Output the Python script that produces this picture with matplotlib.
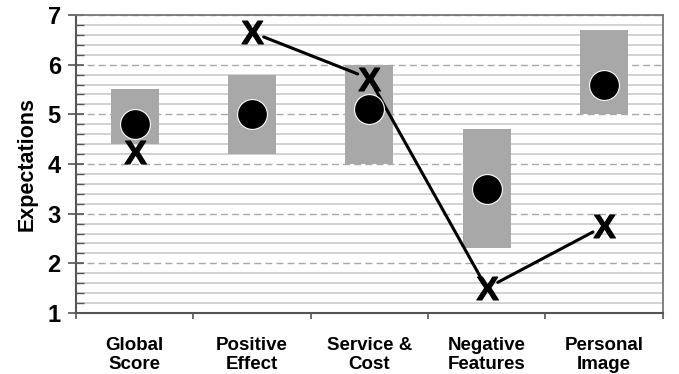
import numpy as np
import matplotlib
matplotlib.use("Agg")
import matplotlib.pyplot as plt
from matplotlib.ticker import MultipleLocator
from matplotlib.textpath import TextPath
from matplotlib.font_manager import FontProperties
from matplotlib.path import Path

plt.rcParams["font.family"] = ["Liberation Sans", "DejaVu Sans"]
plt.rcParams["font.weight"] = "bold"

categories = ["Global\nScore", "Positive\nEffect", "Service &\nCost", "Negative\nFeatures", "Personal\nImage"]
range_low = [4.4, 4.2, 4.0, 2.3, 5.0]
range_high = [5.5, 5.8, 6.0, 4.7, 6.7]
means = [4.8, 5.0, 5.1, 3.5, 5.6]
x_scores = [4.25, 6.65, 5.72, 1.5, 2.75]


def letter_marker(ch):
    """Bold Arial-like letter as a marker path, centred on its own bbox."""
    tp = TextPath((0, 0), ch, prop=FontProperties(family="Liberation Sans", weight="bold"))
    v = tp.vertices.copy()
    v -= (v.min(axis=0) + v.max(axis=0)) / 2
    return Path(v, tp.codes)


def main():
    fig = plt.figure(figsize=(6.79, 3.74), dpi=100)
    ax = fig.add_axes([0.112, 0.163, 0.864, 0.797])

    pos = np.arange(1, len(categories) + 1)

    # grid first so the boxes sit on top
    ax.set_ylim(1, 7)
    ax.set_xlim(0.5, 5.5)
    ax.yaxis.set_major_locator(MultipleLocator(1))
    ax.yaxis.set_minor_locator(MultipleLocator(0.2))
    ax.grid(which="minor", axis="y", color="#cfcfcf", lw=1.3, ls="-")
    ax.grid(which="major", axis="y", color="#a8a8a8", lw=1.0, ls=(0, (5, 3)))
    ax.set_axisbelow(True)

    ax.bar(pos, np.subtract(range_high, range_low), bottom=range_low,
           width=0.41, color="#a8a8a8", zorder=2)

    ax.plot(pos, means, ls="none", marker="o", ms=21.5, color="black",
            mec="white", mew=0.8, zorder=4)

    # line joins the X's from the second category on, stopping short of the letters
    for i in range(1, len(x_scores) - 1):
        ax.annotate("", xy=(pos[i + 1], x_scores[i + 1]), xytext=(pos[i], x_scores[i]),
                    arrowprops=dict(arrowstyle="-", lw=2.2, color="black",
                                    shrinkA=9, shrinkB=9), zorder=3)
    ax.plot(pos, x_scores, ls="none", marker=letter_marker("X"), ms=16.5,
            color="black", mec="black", mew=0.8, zorder=5)

    ax.set_xticks(pos)
    ax.set_xticklabels(categories, fontsize=13.5, fontweight="bold", linespacing=1.15)
    ax.set_xticks(np.arange(0.5, 6, 1), minor=True)
    ax.tick_params(axis="x", which="major", length=0, pad=17)
    ax.tick_params(axis="x", which="minor", length=4, width=1.2, color="#555555", direction="out")

    ax.tick_params(axis="y", which="major", direction="inout", length=12, width=1.2,
                   color="#555555", labelsize=17, pad=5)
    ax.tick_params(axis="y", which="minor", direction="in", length=6, width=1.0, color="#555555")
    for lab in ax.get_yticklabels():
        lab.set_fontweight("bold")

    ax.set_ylabel("Expectations", fontsize=15.5, fontweight="bold", labelpad=7)

    for side in ["left", "bottom"]:
        ax.spines[side].set_color("#555555")
        ax.spines[side].set_linewidth(1.5)
    for side in ["top", "right"]:
        ax.spines[side].set_color("#777777")
        ax.spines[side].set_linewidth(1.3)

    fig.savefig("out.png", dpi=100)


if __name__ == "__main__":
    main()
